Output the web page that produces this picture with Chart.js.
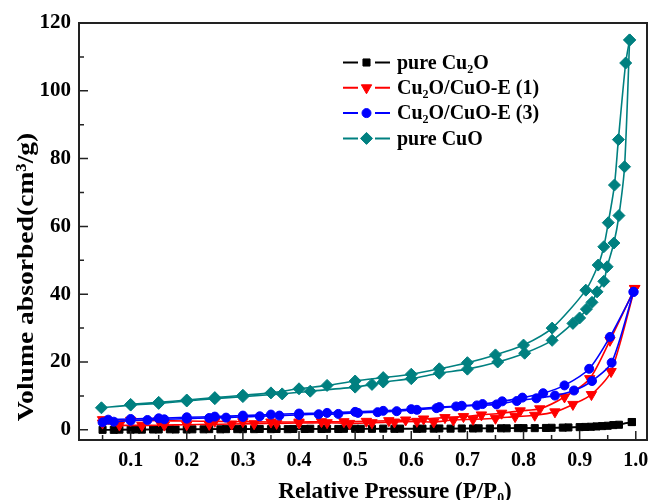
<!DOCTYPE html>
<html>
<head>
<meta charset="utf-8">
<script src="https://cdn.jsdelivr.net/npm/chart.js@4.4.1/dist/chart.umd.min.js"></script>
<style>
  html, body { margin: 0; padding: 0; background: #fff; }
</style>
</head>
<body>
<canvas id="isotherm" width="654" height="500"></canvas>
<script>
// N2 adsorption/desorption isotherms
const seriesNames = ['pure Cu\u2082O', 'Cu\u2082O/CuO-E (1)', 'Cu\u2082O/CuO-E (3)', 'pure CuO'];

const cu2oAdsX = [0.05, 0.07, 0.1, 0.12, 0.15, 0.18, 0.2, 0.23, 0.26, 0.29, 0.32, 0.35, 0.38, 0.41, 0.44, 0.47, 0.5, 0.53, 0.57, 0.61, 0.64, 0.67, 0.71, 0.74, 0.77, 0.8, 0.84, 0.87, 0.9, 0.92, 0.94, 0.96, 0.993];
const cu2oAdsY = [0.0, 0.0, 0.05, 0.05, 0.1, 0.1, 0.1, 0.15, 0.15, 0.2, 0.2, 0.2, 0.2, 0.25, 0.25, 0.25, 0.3, 0.3, 0.3, 0.3, 0.35, 0.35, 0.4, 0.4, 0.45, 0.5, 0.55, 0.65, 0.8, 0.9, 1.1, 1.4, 2.3];
const cu2oDesX = [0.97, 0.95, 0.93, 0.91, 0.88, 0.85, 0.82, 0.79, 0.76, 0.72, 0.69, 0.65, 0.62, 0.58, 0.55, 0.51, 0.48, 0.45, 0.42, 0.39, 0.36, 0.33, 0.3, 0.27, 0.24, 0.21, 0.17, 0.14, 0.11, 0.08];
const cu2oDesY = [1.5, 1.2, 1.0, 0.85, 0.7, 0.6, 0.5, 0.5, 0.45, 0.45, 0.4, 0.4, 0.35, 0.35, 0.35, 0.3, 0.3, 0.3, 0.3, 0.25, 0.25, 0.25, 0.2, 0.2, 0.2, 0.15, 0.15, 0.1, 0.1, 0.05];

const e1AdsX = [0.05, 0.08, 0.12, 0.16, 0.2, 0.24, 0.28, 0.32, 0.36, 0.4, 0.45, 0.49, 0.53, 0.57, 0.61, 0.64, 0.675, 0.71, 0.75, 0.785, 0.82, 0.856, 0.888, 0.921, 0.956, 0.998];
const e1AdsY = [2.0, 1.4, 1.3, 1.4, 1.5, 1.6, 1.7, 1.8, 1.9, 2.0, 2.1, 1.9, 2.1, 2.3, 2.5, 2.3, 2.9, 3.1, 3.4, 3.9, 4.3, 5.3, 7.5, 10.4, 17.2, 41.7];
const e1DesX = [0.954, 0.918, 0.873, 0.829, 0.794, 0.761, 0.725, 0.693, 0.66, 0.622, 0.59, 0.56, 0.52, 0.48, 0.44, 0.4, 0.35, 0.3, 0.25, 0.2, 0.15, 0.1, 0.05];
const e1DesY = [26.4, 15.1, 9.7, 6.2, 5.6, 4.9, 4.4, 3.9, 3.6, 3.2, 2.9, 2.7, 2.5, 2.4, 2.4, 2.3, 2.3, 2.4, 2.5, 2.6, 2.7, 2.8, 3.0];

const e3AdsX = [0.05, 0.07, 0.1, 0.13, 0.16, 0.2, 0.24, 0.27, 0.3, 0.33, 0.365, 0.4, 0.435, 0.47, 0.505, 0.54, 0.574, 0.61, 0.645, 0.68, 0.717, 0.752, 0.788, 0.823, 0.856, 0.89, 0.922, 0.957, 0.996];
const e3AdsY = [2.2, 2.4, 2.7, 2.9, 3.1, 3.3, 3.5, 3.6, 3.8, 4.0, 4.2, 4.4, 4.6, 4.7, 5.0, 5.2, 5.5, 5.9, 6.4, 6.9, 7.2, 7.5, 8.5, 9.3, 10.1, 11.6, 14.4, 19.8, 40.7];
const e3DesX = [0.954, 0.917, 0.873, 0.835, 0.798, 0.762, 0.727, 0.69, 0.65, 0.6, 0.55, 0.5, 0.45, 0.4, 0.35, 0.3, 0.25, 0.2, 0.15, 0.1, 0.06];
const e3DesY = [27.4, 18.0, 13.1, 10.8, 9.5, 8.4, 7.6, 7.1, 6.7, 6.1, 5.6, 5.3, 5.0, 4.8, 4.5, 4.2, 3.9, 3.7, 3.4, 3.2, 3.0];

const cuoAdsX = [0.048, 0.1, 0.15, 0.2, 0.25, 0.3, 0.37, 0.42, 0.5, 0.53, 0.55, 0.6, 0.65, 0.7, 0.754, 0.802, 0.851, 0.888, 0.9, 0.912, 0.922, 0.931, 0.943, 0.949, 0.961, 0.97, 0.98, 0.989];
const cuoAdsY = [6.5, 7.3, 7.8, 8.5, 9.2, 9.8, 10.6, 11.4, 12.6, 13.4, 14.1, 15.1, 16.7, 17.9, 20.0, 22.6, 26.4, 31.4, 33.0, 35.6, 37.6, 40.7, 43.8, 48.1, 55.1, 63.2, 77.6, 115.0];
const cuoDesX = [0.982, 0.969, 0.962, 0.951, 0.943, 0.933, 0.911, 0.851, 0.8, 0.75, 0.7, 0.65, 0.6, 0.55, 0.5, 0.45, 0.4, 0.35, 0.3, 0.25, 0.2, 0.15, 0.1];
const cuoDesY = [108.2, 85.6, 72.2, 61.1, 54.0, 48.6, 41.2, 30.0, 25.0, 22.1, 19.8, 18.0, 16.4, 15.4, 14.4, 13.1, 12.1, 10.9, 10.2, 9.5, 8.8, 8.1, 7.5];

const xMajorTicks = [0.1, 0.2, 0.3, 0.4, 0.5, 0.6, 0.7, 0.8, 0.9, 1.0];
const xMinorTicks = [0.05, 0.15, 0.25, 0.35, 0.45, 0.55, 0.65, 0.75, 0.85, 0.95];
const yMajorTicks = [0, 20, 40, 60, 80, 100, 120];
const yMinorTicks = [10, 30, 50, 70, 90, 110];

const colors = ['#000000', '#ff0000', '#0000ff', '#008080'];
const markers = [
  { pointStyle: 'rect', radius: 5, rotation: 0 },
  { pointStyle: 'triangle', radius: 6, rotation: 180 },
  { pointStyle: 'circle', radius: 4.5, rotation: 0 },
  { pointStyle: 'rectRot', radius: 6, rotation: 0 }
];

const FONT = '"Liberation Serif", "Times New Roman", serif';

const toPoints = (xs, ys) => xs.map((x, i) => ({ x, y: ys[i] }));
const branches = [
  [cu2oAdsX, cu2oAdsY, cu2oDesX, cu2oDesY],
  [e1AdsX, e1AdsY, e1DesX, e1DesY],
  [e3AdsX, e3AdsY, e3DesX, e3DesY],
  [cuoAdsX, cuoAdsY, cuoDesX, cuoDesY]
];

const datasets = [];
branches.forEach(([ax, ay, dx, dy], i) => {
  const base = {
    label: seriesNames[i],
    showLine: true,
    borderColor: colors[i],
    backgroundColor: colors[i],
    borderWidth: 1.6,
    tension: 0.25,
    pointStyle: markers[i].pointStyle,
    pointRadius: markers[i].radius,
    pointRotation: markers[i].rotation,
    pointBorderWidth: 1,
    order: 4 - i
  };
  datasets.push({ ...base, data: toPoints(ax, ay) });
  // desorption branch starts from the last adsorption point
  const top = { x: ax[ax.length - 1], y: ay[ay.length - 1] };
  datasets.push({ ...base, label: seriesNames[i] + ' des', data: [top, ...toPoints(dx, dy)] });
});

const decorations = {
  id: 'decorations',
  afterDatasetsDraw(chart) {
    const { ctx, chartArea: a, scales: { x, y } } = chart;
    ctx.save();
    ctx.strokeStyle = '#222';
    ctx.lineWidth = 2;
    ctx.strokeRect(a.left, a.top, a.right - a.left, a.bottom - a.top);

    ctx.lineWidth = 1.5;
    ctx.beginPath();
    xMajorTicks.forEach(v => { const p = x.getPixelForValue(v); ctx.moveTo(p, a.bottom); ctx.lineTo(p, a.bottom - 9); });
    xMinorTicks.forEach(v => { const p = x.getPixelForValue(v); ctx.moveTo(p, a.bottom); ctx.lineTo(p, a.bottom - 5); });
    yMajorTicks.forEach(v => { const p = y.getPixelForValue(v); ctx.moveTo(a.left, p); ctx.lineTo(a.left + 9, p); });
    yMinorTicks.forEach(v => { const p = y.getPixelForValue(v); ctx.moveTo(a.left, p); ctx.lineTo(a.left + 5, p); });
    ctx.stroke();

    // legend inside the plot
    const lx = 343, rowY = 62.5, rowGap = 25.3;
    seriesNames.forEach((name, i) => {
      const ly = rowY + i * rowGap;
      ctx.strokeStyle = colors[i];
      ctx.fillStyle = colors[i];
      ctx.lineWidth = 2;
      ctx.beginPath();
      ctx.moveTo(lx, ly); ctx.lineTo(lx + 15, ly);
      ctx.moveTo(lx + 32, ly); ctx.lineTo(lx + 47, ly);
      ctx.stroke();
      ctx.lineWidth = 1;
      Chart.helpers.drawPoint(ctx, { ...markers[i], borderWidth: 1 }, lx + 23.5, ly);
      ctx.fillStyle = '#000';
      ctx.font = 'bold 20px ' + FONT;
      ctx.textBaseline = 'middle';
      ctx.textAlign = 'left';
      ctx.fillText(name, lx + 54, ly + 1);
    });

    // axis titles
    ctx.fillStyle = '#000';
    ctx.font = 'bold 23px ' + FONT;
    ctx.textAlign = 'center';
    ctx.textBaseline = 'alphabetic';
    ctx.fillText('Relative Pressure (P/P\u2080)', 395, 498);
    ctx.font = 'bold 24px ' + FONT;
    ctx.translate(33, 277);
    ctx.rotate(-Math.PI / 2);
    ctx.scale(1.15, 1);
    ctx.fillText('Volume absorbed(cm\u00b3/g)', 0, 0);
    ctx.restore();
  }
};

new Chart(document.getElementById('isotherm'), {
  type: 'scatter',
  data: { datasets },
  options: {
    responsive: false,
    animation: false,
    layout: { padding: { top: 23, right: 4, left: 0, bottom: 0 } },
    plugins: { legend: { display: false }, tooltip: { enabled: false } },
    scales: {
      x: {
        type: 'linear',
        min: 0.008,
        max: 1.02,
        afterBuildTicks: s => { s.ticks = xMajorTicks.map(v => ({ value: v })); },
        afterFit: s => { s.height = 60; s.paddingLeft = 0; s.paddingRight = 0; },
        grid: { display: false, drawTicks: false },
        border: { display: false },
        ticks: {
          padding: 9,
          color: '#000',
          maxRotation: 0,
          font: { family: FONT, size: 20, weight: 'bold' },
          callback: v => v.toFixed(1)
        }
      },
      y: {
        type: 'linear',
        min: -3,
        max: 120,
        afterBuildTicks: s => { s.ticks = yMajorTicks.map(v => ({ value: v })); },
        afterFit: s => { s.width = 79; s.paddingTop = 0; s.paddingBottom = 0; },
        grid: { display: false, drawTicks: false },
        border: { display: false },
        ticks: {
          padding: 8,
          color: '#000',
          font: { family: FONT, size: 21, weight: 'bold' },
          callback: v => String(v)
        }
      }
    }
  },
  plugins: [decorations]
});
</script>
</body>
</html>
